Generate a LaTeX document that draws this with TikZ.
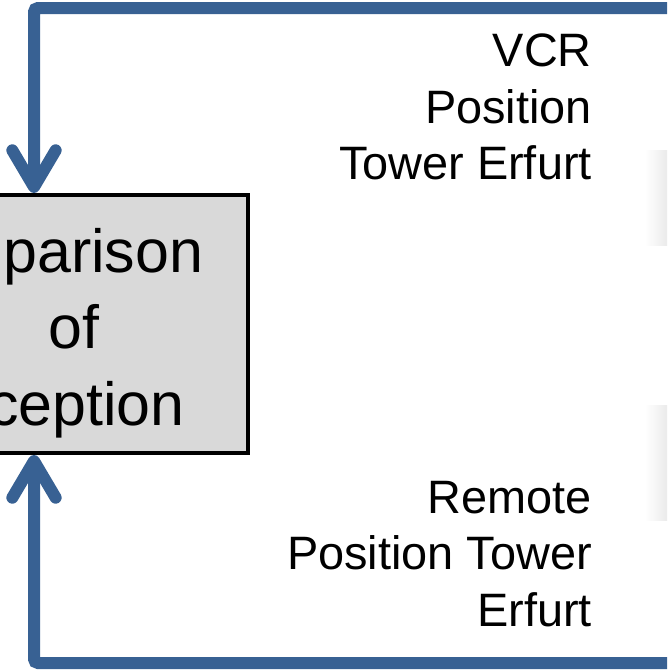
\documentclass[tikz,border=0pt]{standalone}
\usepackage{fontspec}
\setmainfont{Liberation Sans}
\usetikzlibrary{arrows.meta,positioning,calc}
\definecolor{flowblue}{RGB}{56,97,147}
\definecolor{boxgray}{RGB}{217,217,217}
\tikzset{
  flow/.style={draw=flowblue, line width=0.36cm, rounded corners=0.12cm,
    -{Straight Barb[length=1.1cm, width=1.3cm, round]}},
  compbox/.style={draw=black, fill=boxgray, line width=0.12cm,
    minimum width=12.8cm, minimum height=7.74cm, inner sep=0pt},
  comptext/.style={align=center, font=\fontsize{52}{65.5}\selectfont, inner sep=0pt},
  sidetext/.style={anchor=east, align=right, font=\fontsize{40}{48.5}\selectfont, inner sep=0pt}
}
\begin{document}
\begin{tikzpicture}[x=0.03cm,y=-0.03cm]
\useasboundingbox (0,0) rectangle (667,670);
\clip (0,0) rectangle (667,670);
% shadows of the boxes on the right
\shade[left color=white, right color=black!8] (645,150) rectangle (667,245);
\shade[left color=white, right color=black!8] (645,405) rectangle (667,520);
% comparison box
\node[compbox] (comp) at (35,324) {};
\node[comptext] (comptxt) at ([yshift=-0.27cm,xshift=0.12cm]comp.center) {Comparison\\\hspace*{2.1cm}of\\Perception};
% connectors
\coordinate (topin) at (700,8);
\coordinate (botin) at (700,663);
\draw[flow] (topin) -- (34,8) -- (comp.north -| 34,0);
\draw[flow] (botin) -- (34,663) -- (comp.south -| 34,0);
% labels
\node[sidetext] (vcr) at (592,107) {VCR\\Position\\Tower Erfurt};
\node[sidetext] (rpt) at (592,554) {Remote\\Position Tower\\Erfurt};
\end{tikzpicture}
\end{document}
